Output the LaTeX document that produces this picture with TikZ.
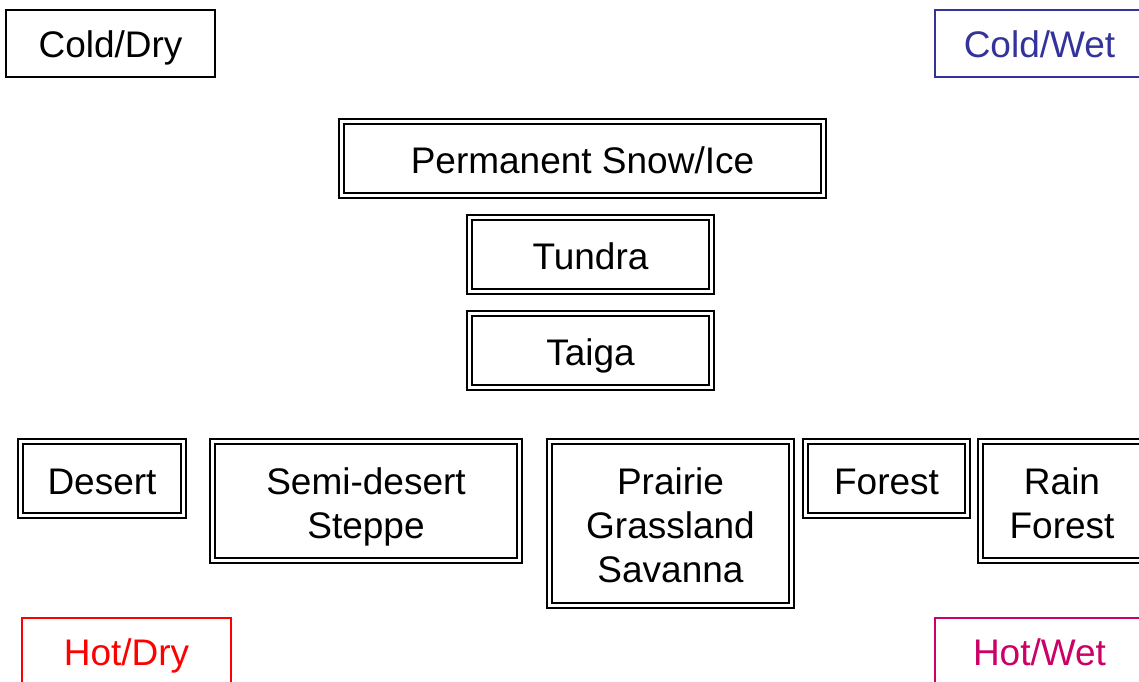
\documentclass[tikz,border=0pt]{standalone}
\usepackage{fontspec}
\setmainfont{Liberation Sans}
\definecolor{wetblue}{HTML}{333399}
\definecolor{hotred}{HTML}{FF0000}
\definecolor{hotwet}{HTML}{CC0066}
\newcommand{\topstrut}{\rule{0pt}{30pt}}
\begin{document}
\begin{tikzpicture}[x=1pt,y=-1pt,
  lbl/.style={draw, line width=1.5pt, inner sep=0, outer sep=0, minimum width=209pt, minimum height=67pt},
  biome/.style={draw, line width=2.4pt, inner sep=0, outer sep=0},
  txt/.style={inner sep=0, outer sep=0, anchor=north, align=center,
    font=\fontsize{37}{44.3}\selectfont},
  frame/.style={line width=1.5pt}]
\clip (0,0) rectangle (1139,681);
\fill[white] (0,0) rectangle (1139,681);
% corner labels
\node[lbl] (colddry) at (110.5,43.5) {};
\node[lbl, draw=wetblue] (coldwet) at (1039.5,43.5) {};
\node[lbl, draw=hotred] (hotdry) at (126.5,651.5) {};
\node[lbl, draw=hotwet] (hotwetbox) at (1039.5,651.5) {};
\node[txt] (colddryt) at ([yshift=-17.5pt]colddry.north) {\topstrut Cold/Dry};
\node[txt, text=wetblue] (coldwett) at ([yshift=-17.5pt]coldwet.north) {\topstrut Cold/Wet};
\node[txt, text=hotred] (hotdryt) at ([yshift=-17.5pt]hotdry.north) {\topstrut Hot/Dry};
\node[txt, text=hotwet] (hotwett) at ([yshift=-17.5pt]hotwetbox.north) {\topstrut Hot/Wet};
% biomes
\node[biome, minimum width=487pt, minimum height=79pt] (perm) at (582.5,158.5) {};
\node[biome, minimum width=247pt, minimum height=79pt] (tundra) at (590.5,254.5) {};
\node[biome, minimum width=247pt, minimum height=79pt] (taiga) at (590.5,350.5) {};
\node[biome, minimum width=168pt, minimum height=79pt] (desert) at (102,478.5) {};
\node[biome, minimum width=312pt, minimum height=124pt] (semi) at (366,501) {};
\node[biome, minimum width=247pt, minimum height=169pt] (prairie) at (670.5,523.5) {};
\node[biome, minimum width=167pt, minimum height=79pt] (forest) at (886.5,478.5) {};
\node[biome, minimum width=168pt, minimum height=124pt] (rain) at (1062,501) {};
\foreach \n in {perm,tundra,taiga,desert,semi,prairie,forest,rain}
  \draw[frame] ([xshift=5pt,yshift=-5pt]\n.north west) rectangle ([xshift=-5pt,yshift=5pt]\n.south east);
\node[txt] (permt) at ([yshift=-24.5pt]perm.north) {\topstrut Permanent Snow/Ice};
\node[txt] (tundrat) at ([yshift=-24.5pt]tundra.north) {\topstrut Tundra};
\node[txt] (taigat) at ([yshift=-24.5pt]taiga.north) {\topstrut Taiga};
\node[txt] (desertt) at ([yshift=-25pt]desert.north) {\topstrut Desert};
\node[txt] (semit) at ([yshift=-25pt]semi.north) {\topstrut Semi-desert\\Steppe};
\node[txt] (prairiet) at ([yshift=-25pt]prairie.north) {\topstrut Prairie\\Grassland\\Savanna};
\node[txt] (forestt) at ([yshift=-25pt]forest.north) {\topstrut Forest};
\node[txt] (raint) at ([yshift=-25pt]rain.north) {\topstrut Rain\\Forest};
\end{tikzpicture}
\end{document}
